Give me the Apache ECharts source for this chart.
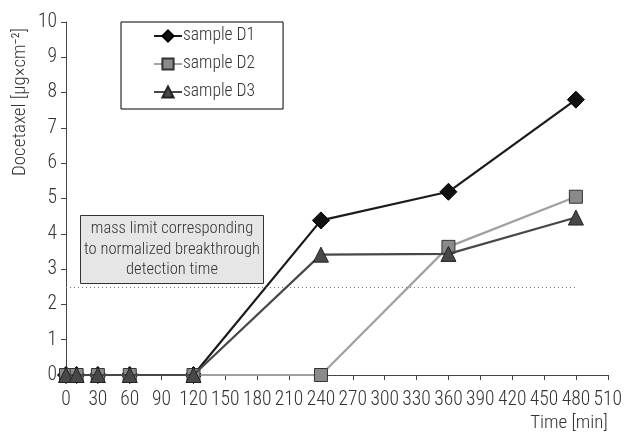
<!DOCTYPE html>
<html><head><meta charset="utf-8">
<script src="https://cdn.jsdelivr.net/npm/echarts@6/dist/echarts.min.js"></script>
<style>html,body{margin:0;padding:0;background:#fff}#c{width:625px;height:439px}</style>
</head><body><div id="c"></div>
<script>
const times = [0, 10, 30, 60, 120, 240, 360, 480];
const sampleD1 = [0, 0, 0, 0, 0, 4.38, 5.19, 7.8];
const sampleD2 = [0, 0, 0, 0, 0, 0, 3.63, 5.05];
const sampleD3 = [0, 0, 0, 0, 0, 3.41, 3.43, 4.46];
const limitValue = 2.5;
const names = ['sample D1', 'sample D2', 'sample D3'];
const FONT = '"Roboto Condensed", "Liberation Sans", sans-serif';
const TXT = '#333';

const pairs = arr => arr.map((v, i) => [times[i], v]);
const chart = echarts.init(document.getElementById('c'));
chart.setOption({
  animation: false,
  grid: { left: 66, right: 15, top: 22, bottom: 64 },
  legend: {
    orient: 'vertical', left: 121, top: 22,
    itemWidth: 28, itemHeight: 14, itemGap: 10,
    padding: [5, 28, 8, 32],
    borderColor: '#000', borderWidth: 1, backgroundColor: '#fff', borderRadius: 0,
    textStyle: { fontFamily: FONT, fontWeight: 300, fontSize: 17.5, color: TXT, padding: [0, 0, 0, -4] },
    data: names
  },
  xAxis: {
    type: 'value', min: 0, max: 510, interval: 30,
    name: 'Time [min]', nameLocation: 'end', nameGap: 0,
    nameTextStyle: { fontFamily: FONT, fontWeight: 300, fontSize: 19, color: TXT, align: 'right', verticalAlign: 'top', padding: [39, 0, 0, 0] },
    axisLine: { lineStyle: { color: '#444', width: 1 } },
    axisTick: { show: true, inside: false, length: 5, lineStyle: { color: '#444' } },
    axisLabel: { fontFamily: FONT, fontWeight: 300, fontSize: 19.5, color: TXT, margin: 15 },
    splitLine: { show: false }
  },
  yAxis: {
    type: 'value', min: 0, max: 10, interval: 1,
    axisLine: { show: true, lineStyle: { color: '#444', width: 1 } },
    axisTick: { show: true, inside: false, length: 5, lineStyle: { color: '#444' } },
    axisLabel: { fontFamily: FONT, fontWeight: 300, fontSize: 19.5, color: TXT, margin: 9 },
    splitLine: { show: false }
  },
  series: [
    {
      name: names[0], type: 'line', data: pairs(sampleD1), z: 3,
      symbol: 'diamond', symbolSize: 17,
      lineStyle: { color: '#1a1a1a', width: 2.2 },
      itemStyle: { color: '#111', borderColor: '#000', borderWidth: 1 },
      markLine: {
        silent: true, symbol: 'none', label: { show: false },
        lineStyle: { type: [1, 3], color: '#777', width: 1 },
        data: [[{ coord: [0, limitValue] }, { coord: [480, limitValue] }]]
      }
    },
    {
      name: names[1], type: 'line', data: pairs(sampleD2), z: 4,
      symbol: 'rect', symbolSize: 13,
      lineStyle: { color: '#a0a0a0', width: 2.2 },
      itemStyle: { color: '#8a8a8a', borderColor: '#333', borderWidth: 1 }
    },
    {
      name: names[2], type: 'line', data: pairs(sampleD3), z: 5,
      symbol: 'triangle', symbolSize: 15,
      lineStyle: { color: '#484848', width: 2.2 },
      itemStyle: { color: '#484848', borderColor: '#222', borderWidth: 1 }
    }
  ],
  graphic: [
    {
      type: 'text', x: 20, y: 102, rotation: Math.PI / 2,
      style: { text: 'Docetaxel [μg×cm⁻²]', fontFamily: FONT, fontWeight: 300, fontSize: 19, fill: TXT,
        align: 'center', verticalAlign: 'middle' }
    },
    {
      type: 'group', left: 80, top: 215,
      children: [
        { type: 'rect', shape: { x: 0, y: 0, width: 183, height: 68 },
          style: { fill: '#e6e6e6', stroke: '#333', lineWidth: 1 } },
        { type: 'text', x: 91.5, y: 34,
          style: { text: 'mass limit corresponding\nto normalized breakthrough\ndetection time',
            fontFamily: FONT, fontWeight: 300, fontSize: 16.5, fill: TXT, align: 'center', verticalAlign: 'middle', lineHeight: 20.5 } }
      ]
    }
  ]
});
</script></body></html>
